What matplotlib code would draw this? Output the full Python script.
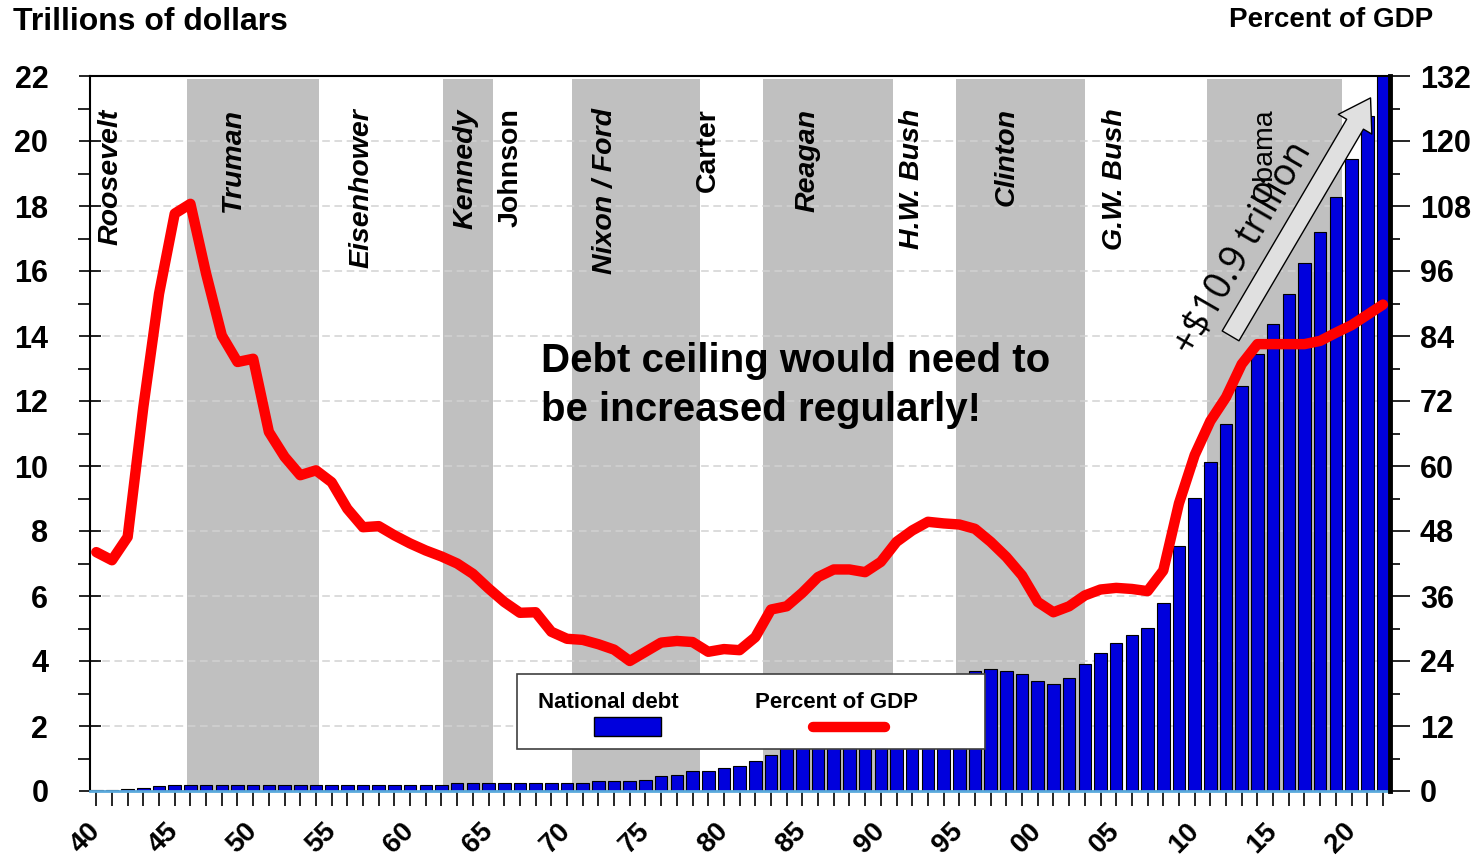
import numpy as np
import matplotlib.pyplot as plt
from matplotlib.patches import Rectangle
from matplotlib.lines import Line2D

plt.rcParams['font.family'] = ['Liberation Sans', 'DejaVu Sans']

# fiscal years shown on the chart
years = np.arange(1940, 2023)

# debt held by the public, trillions of dollars
debt = [0.02, 0.03, 0.05, 0.10, 0.15, 0.19, 0.19, 0.19, 0.19, 0.19,
        0.19, 0.19, 0.19, 0.19, 0.19, 0.19, 0.19, 0.19, 0.19, 0.19,
        0.19, 0.19, 0.19, 0.25, 0.25, 0.25, 0.25, 0.25, 0.25, 0.25,
        0.25, 0.25, 0.30, 0.30, 0.30, 0.35, 0.46, 0.50, 0.61, 0.62,
        0.71, 0.76, 0.91, 1.12, 1.31, 1.50, 1.74, 1.89, 2.05, 2.19,
        2.41, 2.69, 3.00, 3.25, 3.43, 3.60, 3.69, 3.74, 3.69, 3.59,
        3.38, 3.28, 3.49, 3.90, 4.25, 4.55, 4.81, 5.02, 5.77, 7.54,
        9.02, 10.12, 11.30, 12.46, 13.46, 14.36, 15.29, 16.24, 17.20, 18.27,
        19.46, 20.77, 22.30]

# same debt as a share of GDP, percent
pct_gdp = [44.1, 42.6, 46.9, 70.9, 91.8, 106.6, 108.4, 95.5, 84.1, 79.2,
           79.8, 66.3, 61.7, 58.3, 59.2, 57.0, 52.1, 48.7, 48.9, 47.2,
           45.7, 44.4, 43.3, 42.0, 40.1, 37.4, 34.9, 32.9, 33.0, 29.4,
           28.1, 27.9, 27.1, 26.1, 24.0, 25.7, 27.4, 27.7, 27.5, 25.7,
           26.2, 26.0, 28.4, 33.5, 34.1, 36.6, 39.5, 40.9, 40.9, 40.4,
           42.3, 46.0, 48.1, 49.7, 49.4, 49.2, 48.4, 46.0, 43.2, 39.8,
           34.9, 33.0, 34.1, 36.1, 37.2, 37.5, 37.3, 36.9, 40.7, 53.1,
           62.0, 68.3, 72.7, 78.8, 82.5, 82.5, 82.5, 82.5, 83.1, 84.6,
           86.0, 87.9, 89.8]

assert len(debt) == len(years) == len(pct_gdp)

# shaded presidencies (start, end)
shaded_terms = [(1945.8, 1954.2), (1962.1, 1965.3), (1970.3, 1978.45),
                (1982.5, 1990.8), (1994.8, 2003.0), (2010.8, 2019.4)]

presidents = ["Roosevelt", "Truman", "Eisenhower", "Kennedy", "Johnson",
              "Nixon / Ford", "Carter", "Reagan", "H.W. Bush", "Clinton",
              "G.W. Bush", "Obama"]
president_x = [1940.9, 1948.7, 1956.9, 1963.5, 1966.4, 1972.4, 1979.0,
               1985.3, 1992.0, 1998.0, 2004.9, 2014.45]
president_style = ["italic", "italic", "italic", "italic", "normal", "italic",
                   "normal", "italic", "italic", "italic", "italic", "normal"]

fig = plt.figure(figsize=(14.84, 8.61), dpi=100)
ax = fig.add_axes([90 / 1484, 1 - 791 / 861, 1300 / 1484, 715 / 861])

ax.set_xlim(1939.6, 2022.45)
ax.set_ylim(0, 22)

for a, b in shaded_terms:
    ax.axvspan(a, b, ymin=0, ymax=0.9958, color='#c0c0c0', lw=0, zorder=0)

ax.set_axisbelow(True)
ax.yaxis.grid(True, ls=(0, (5, 3)), color='#d2d2d2', lw=1.1)

ax.bar(years, debt, width=0.8, color='#0000dd', edgecolor='black',
       linewidth=0.8, zorder=2)

# tick setup, left axis
ax.set_yticks(range(0, 23, 2))
ax.set_yticks(range(1, 22, 2), minor=True)
ax.tick_params(axis='y', which='major', direction='inout', length=16,
               width=1.2, pad=22, labelsize=22)
ax.tick_params(axis='y', which='minor', direction='out', length=9, width=1.2)
for lab in ax.get_yticklabels():
    lab.set_fontweight('bold')

ax.set_xticks(years)
ax.set_xticklabels([f"{y % 100:02d}" if y % 5 == 0 else "" for y in years],
                   rotation=45, ha='right', va='center',
                   rotation_mode='anchor', fontsize=20, fontweight='bold')
ax.tick_params(axis='x', direction='out', length=11, width=1.2, pad=15)

ax.spines['left'].set_linewidth(1.5)
ax.spines['top'].set_linewidth(1.5)
ax.spines['bottom'].set_color('#5aa9dc')
ax.spines['bottom'].set_linewidth(2)
ax.spines['right'].set_visible(False)

# president names
for name, x, st in zip(presidents, president_x, president_style):
    w = 'normal' if name == "Obama" else 'bold'
    ax.text(x, 21.0, name, rotation=90, ha='center', va='top',
            fontsize=20.5, fontweight=w, fontstyle=st, zorder=3)

ax.text(1968.33, 13.8, "Debt ceiling would need to\nbe increased regularly!",
        ha='left', va='top', fontsize=29, fontweight='bold',
        linespacing=1.35, zorder=3)

# right axis: percent of GDP
ax2 = ax.twinx()
ax2.set_ylim(0, 132)
ax2.plot(years, pct_gdp, color='#ff0000', lw=7.5,
         solid_joinstyle='round', solid_capstyle='round', zorder=3)
ax2.set_yticks(range(0, 133, 12))
ax2.set_yticks(range(6, 132, 12), minor=True)
ax2.tick_params(axis='y', which='major', direction='out', length=14.5,
                width=1.2, pad=7, labelsize=22)
ax2.tick_params(axis='y', which='minor', direction='out', length=7, width=1.2)
for lab in ax2.get_yticklabels():
    lab.set_fontweight('bold')
for s in ['left', 'top', 'bottom']:
    ax2.spines[s].set_visible(False)
ax2.spines['right'].set_linewidth(3.5)

# arrow for the increase over the term
ax2.annotate("", xy=(2021.3, 21.4 * 6), xytext=(2012.2, 13.93 * 6),
             arrowprops=dict(arrowstyle='simple,head_length=1.1,head_width=1.4,tail_width=0.7',
                             mutation_scale=20, fc='#e0e0e0', ec='black', lw=1),
             zorder=5)
ax2.text(2013.1, 16.7 * 6, "+$10.9 trillion", rotation=60, ha='center',
         va='center', fontsize=27, family=['Open Sans', 'DejaVu Sans'],
         fontweight='medium', rotation_mode='anchor', zorder=6)

# legend box
leg = ax2.transAxes
ax2.add_patch(Rectangle((0.3285, 0.0587), 0.36, 0.1049, transform=leg,
                        facecolor='white', edgecolor='#404040', lw=1.2,
                        zorder=7))
ax2.text(0.3985, 0.1231, "National debt", transform=leg, ha='center',
         va='center', fontsize=16, fontweight='bold', zorder=8)
ax2.add_patch(Rectangle((0.3877, 0.0769), 0.0515, 0.0266, transform=leg,
                        facecolor='#0000dd', edgecolor='black', lw=1,
                        zorder=8))
ax2.text(0.5746, 0.1231, "Percent of GDP", transform=leg, ha='center',
         va='center', fontsize=16, fontweight='bold', zorder=8)
ax2.add_line(Line2D([0.5562, 0.6115], [0.0895, 0.0895], transform=leg,
                    color='#ff0000', lw=7.5, solid_capstyle='round',
                    zorder=8))

fig.text(13 / 1484, 1 - 22 / 861, "Trillions of dollars", ha='left',
         va='center', fontsize=23, fontweight='bold')
fig.text(1433 / 1484, 1 - 20 / 861, "Percent of GDP", ha='right',
         va='center', fontsize=20, fontweight='bold')

fig.savefig('out.png', dpi=100)
